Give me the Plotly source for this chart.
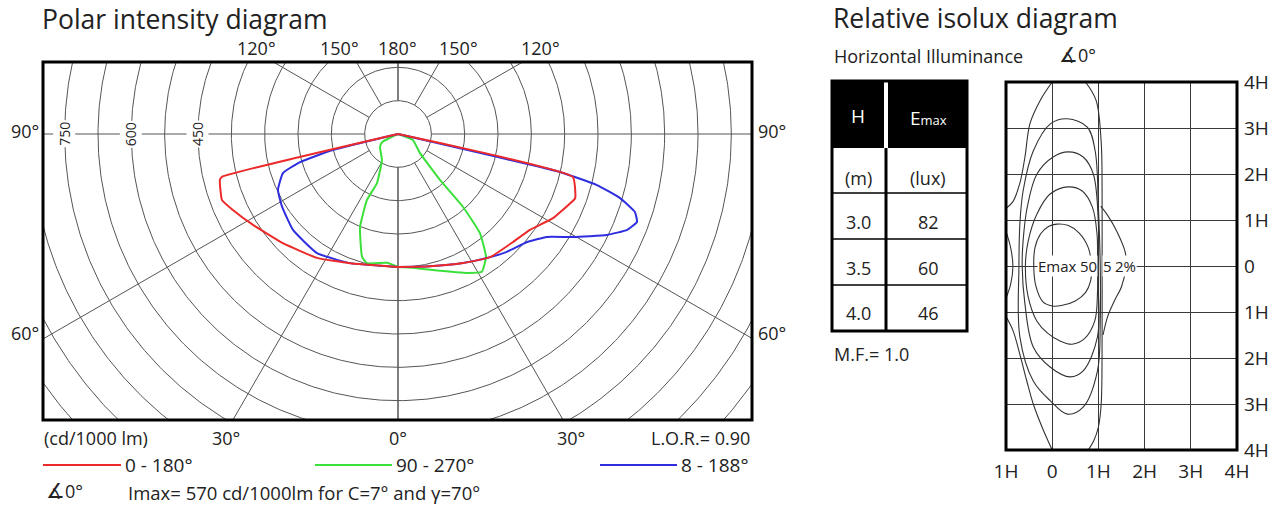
import numpy as np
import plotly.graph_objects as go

W, H = 1286, 507
FONT = "Open Sans"
OFF = 0  # body margin removed through post_script

# ---------------- Polar intensity data (gamma in deg, I in cd/1000 lm) ----------------
red_right_gamma = [0, 13.6, 26.7, 36.8, 46.8, 54.0, 61.5, 68.7, 70.1, 76.2, 77.0]
red_right_I = [299, 306, 325, 346, 355, 367, 397, 420, 424, 405, 0]
red_left_gamma = [0, 20.4, 33.2, 46.5, 57.9, 65.3, 69.4, 75.5, 76.3, 77.0]
red_left_I = [299, 310, 333, 357, 385, 409, 423, 414, 408, 0]

blue_right_gamma = [0, 13.6, 26.7, 36.8, 42.7, 50.1, 55.3, 59.5, 64.2, 67.3, 69.8, 71.8, 73.9, 75.6, 76.8, 78.0]
blue_right_I = [299, 306, 325, 346, 361, 379, 407, 457, 522, 559, 573, 561, 520, 462, 374, 0]
blue_left_gamma = [0, 20.4, 34.2, 47.6, 57.8, 65.0, 71.3, 74.0, 76.2, 78.0]
blue_left_I = [299, 310, 324, 320, 308, 298, 273, 229, 151, 0]

green_right_gamma = [0, 6.4, 14.4, 26.4, 31.3, 35.6, 39.6, 41.7, 42.4, 49.2, 68.0, 90.0]
green_right_I = [299, 303, 316, 349, 363, 340, 289, 220, 140, 65, 36, 0]
green_left_gamma = [0, 4.9, 13.5, 16.3, 22.2, 25.2, 23.2, 31.6, 54.0, 63.0, 90.0]
green_left_I = [299, 291, 299, 288, 226, 164, 120, 69, 50, 40, 0]

ring_labels = ["450", "600", "750"]
ring_label_values = [450, 600, 750]

# ---------------- Isolux data (H units) ----------------
iso_c1_x = [0.10, 0.35, 0.58, 0.78, 0.85, 0.83, 0.72, 0.50, 0.20, 0.00, -0.20, -0.35, -0.40, -0.37, -0.25, -0.08, 0.10]
iso_c1_y = [0.91, 0.88, 0.72, 0.40, 0.00, -0.33, -0.58, -0.76, -0.86, -0.87, -0.78, -0.45, 0.00, 0.41, 0.70, 0.86, 0.91]
iso_c2_x = [0.35, 0.65, 0.87, 0.97, 0.98, 0.98, 0.92, 0.70, 0.43, 0.15, -0.10, -0.33, -0.52, -0.58, -0.52, -0.33, -0.04, 0.35]
iso_c2_y = [1.72, 1.63, 1.28, 0.70, 0.00, -0.60, -1.20, -1.58, -1.70, -1.62, -1.46, -1.20, -0.67, 0.00, 0.54, 1.13, 1.57, 1.72]
iso_c3_x = [0.35, 0.67, 0.89, 1.00, 1.00, 1.00, 0.98, 0.67, 0.39, -0.04, -0.41, -0.59, -0.65, -0.63, -0.54, -0.33, 0.02, 0.35]
iso_c3_y = [2.48, 2.37, 2.00, 0.91, 0.00, -0.46, -1.54, -2.28, -2.41, -2.20, -1.76, -0.83, 0.00, 0.54, 1.28, 2.00, 2.37, 2.48]
iso_c4_x = [0.33, 0.76, 0.93, 1.00, 1.04, 1.04, 0.98, 0.67, 0.33, -0.04, -0.41, -0.70, -0.72, -0.70, -0.63, -0.41, -0.04, 0.33]
iso_c4_y = [3.20, 3.02, 2.50, 1.28, 0.00, -1.20, -2.28, -3.07, -3.22, -2.93, -2.50, -1.54, 0.00, 0.91, 1.63, 2.50, 3.09, 3.20]
iso_c5a_x = [0.0, -0.26, -0.48, -0.59, -0.70, -0.85, -1.0]
iso_c5a_y = [4.0, 3.6, 3.1, 2.37, 1.8, 1.4, 1.25]
iso_c5b_x = [-1.0, -0.85, -0.70, -0.55, -0.41, -0.20, 0.0]
iso_c5b_y = [-1.1, -1.4, -1.92, -2.5, -3.0, -3.55, -4.0]
iso_c5c_x = [0.72, 0.95, 1.06, 1.08, 1.08, 1.08, 1.06, 1.00, 0.90, 0.78]
iso_c5c_y = [4.0, 3.6, 2.7, 1.6, 0.0, -1.6, -3.0, -3.5, -3.8, -4.0]
iso_c6_x = [1.05, 1.20, 1.40, 1.58, 1.60, 1.50, 1.35, 1.20, 1.10]
iso_c6_y = [1.30, 1.10, 0.75, 0.30, 0.00, -0.45, -0.75, -1.10, -1.50]
iso_c7_x = [-1.0, -0.90, -0.85, -0.90, -1.0]
iso_c7_y = [0.75, 0.40, 0.00, -0.40, -0.70]

iso_labels = ["Emax", "50", "5", "2%"]
iso_label_x = [0.11, 0.78, 1.20, 1.59]
iso_y_ticks = ["4H", "3H", "2H", "1H", "0", "1H", "2H", "3H", "4H"]
iso_y_vals = [4, 3, 2, 1, 0, -1, -2, -3, -4]
iso_x_ticks = ["1H", "0", "1H", "2H", "3H", "4H"]
iso_x_vals = [-1, 0, 1, 2, 3, 4]

# ---------------- Table data ----------------
table_H = ["3.0", "3.5", "4.0"]
table_Emax = ["82", "60", "46"]

# ---------------- Layout geometry (pixels of the target picture) ----------------
def PX(x):
    return (x - OFF) / W

def PY(y):
    return 1 - (y - OFF) / H

CX, CY = 398, 134
SCALE = 200 / 450.0  # px per cd
BX0, BY0, BX1, BY1 = 43, 62, 752, 420
xr = [(BX0 - CX) / SCALE, (BX1 - CX) / SCALE]
yr = [(CY - BY1) / SCALE, (CY - BY0) / SCALE]

IX0, IY0, IX1, IY1 = 1006, 82, 1237, 450

fig = go.Figure()

# polar grid: circles and radial lines
th = np.linspace(0, 2 * np.pi, 721)
gx, gy = [], []
for k in range(1, 16):
    r = 75 * k
    gx += list(r * np.cos(th)) + [None]
    gy += list(r * np.sin(th)) + [None]
for a in [0, 30, 60, 90, 120, 150, 180]:
    for s in (-1, 1):
        ar = np.radians(a)
        gx += [s * 75 * np.sin(ar), s * 1500 * np.sin(ar), None]
        gy += [-75 * np.cos(ar), -1500 * np.cos(ar), None]
fig.add_trace(go.Scatter(x=gx, y=gy, mode="lines", line=dict(color="#555555", width=1),
                         hoverinfo="skip", showlegend=False, xaxis="x", yaxis="y"))


def polar_xy(gl, il, gr, ir):
    xs, ys = [], []
    for g, i in zip(gl[::-1], il[::-1]):
        xs.append(-i * np.sin(np.radians(g)))
        ys.append(-i * np.cos(np.radians(g)))
    for g, i in zip(gr, ir):
        xs.append(i * np.sin(np.radians(g)))
        ys.append(-i * np.cos(np.radians(g)))
    xs.append(xs[0]); ys.append(ys[0])
    return xs, ys


for gl, il, gr, ir, col in [
    (green_left_gamma, green_left_I, green_right_gamma, green_right_I, "#3be03b"),
    (blue_left_gamma, blue_left_I, blue_right_gamma, blue_right_I, "#2e2ee0"),
    (red_left_gamma, red_left_I, red_right_gamma, red_right_I, "#ec2a2a"),
]:
    xs, ys = polar_xy(gl, il, gr, ir)
    fig.add_trace(go.Scatter(x=xs, y=ys, mode="lines", line=dict(color=col, width=2, shape="spline", smoothing=0.4),
                             hoverinfo="skip", showlegend=False, xaxis="x", yaxis="y"))

# isolux contours
for cx_, cy_ in [(iso_c1_x, iso_c1_y), (iso_c2_x, iso_c2_y), (iso_c3_x, iso_c3_y), (iso_c4_x, iso_c4_y),
                 (iso_c5a_x, iso_c5a_y), (iso_c5b_x, iso_c5b_y), (iso_c5c_x, iso_c5c_y),
                 (iso_c6_x, iso_c6_y), (iso_c7_x, iso_c7_y)]:
    fig.add_trace(go.Scatter(x=cx_, y=cy_, mode="lines", line=dict(color="#333", width=1.1, shape="spline", smoothing=1.0),
                             hoverinfo="skip", showlegend=False, xaxis="x2", yaxis="y2"))

shapes = []
annotations = []

def ann(text, x, y, size=15, xanchor="center", yanchor="middle", color="#222", **kw):
    annotations.append(dict(text=text, x=PX(x), y=PY(y), xref="paper", yref="paper", showarrow=False,
                            xanchor=xanchor, yanchor=yanchor, borderpad=0,
                            font=dict(family=FONT, size=size, color=color), **kw))

ANG = "<span style='font-size:21px'>∡</span>0°"

# polar frame
shapes.append(dict(type="rect", xref="x domain", yref="y domain", x0=0, x1=1, y0=0, y1=1,
                   line=dict(color="black", width=3)))
# ring labels on the 90 deg line
for t, v in zip(ring_labels, ring_label_values):
    annotations.append(dict(text=t, x=-v, y=0, xref="x", yref="y", showarrow=False, textangle=-90,
                            bgcolor="white", borderpad=1, font=dict(family=FONT, size=14, color="#222")))

# titles and labels (polar)
ann("Polar intensity diagram", 41, 19, size=26.5, xanchor="left")
for t, x in [("120°", 256), ("150°", 340), ("180°", 397), ("150°", 458), ("120°", 540)]:
    ann(t, x, 48, size=18)
ann("90°", 25, 131, size=18)
ann("90°", 772, 131, size=18)
ann("60°", 25, 333, size=18)
ann("60°", 772, 333, size=18)
ann("(cd/1000 lm)", 43, 438, size=18, xanchor="left")
ann("30°", 226, 438, size=18)
ann("0°", 398, 438, size=18)
ann("30°", 571, 438, size=18)
ann("L.O.R.= 0.90", 751, 438, size=18, xanchor="right")

for (x0, x1, col, txt) in [(43, 121, "#ec2a2a", "0 - 180°"), (315, 392, "#3be03b", "90 - 270°"),
                           (600, 677, "#2e2ee0", "8 - 188°")]:
    shapes.append(dict(type="line", xref="paper", yref="paper", x0=PX(x0), x1=PX(x1), y0=PY(465), y1=PY(465),
                       line=dict(color=col, width=2)))
    ann(txt, x1 + 3, 465, size=19, xanchor="left")
ann(ANG, 45, 490, size=18, xanchor="left")
ann("Imax= 570 cd/1000lm for C=7° and γ=70°", 127, 492, size=18.5, xanchor="left")

# right side titles
ann("Relative isolux diagram", 832, 18, size=26.5, xanchor="left")
ann("Horizontal Illuminance", 833, 56, size=18, xanchor="left")
ann(ANG, 1058, 54, size=18, xanchor="left")
ann("M.F.= 1.0", 833, 354, size=18, xanchor="left")

# table
TX0, TX1, TXM = 832, 967, 886
TY0, TYH, TY1 = 81, 148, 331
row_lines = [193, 239, 285]
shapes.append(dict(type="rect", xref="paper", yref="paper", x0=PX(TX0), x1=PX(TX1), y0=PY(TYH), y1=PY(TY0),
                   fillcolor="black", line=dict(width=0)))
shapes.append(dict(type="line", xref="paper", yref="paper", x0=PX(TXM), x1=PX(TXM), y0=PY(TY0), y1=PY(TYH),
                   line=dict(color="white", width=4)))
shapes.append(dict(type="line", xref="paper", yref="paper", x0=PX(TXM), x1=PX(TXM), y0=PY(TYH), y1=PY(TY1),
                   line=dict(color="black", width=3)))
for ry in row_lines:
    shapes.append(dict(type="line", xref="paper", yref="paper", x0=PX(TX0), x1=PX(TX1), y0=PY(ry), y1=PY(ry),
                       line=dict(color="black", width=1.5)))
shapes.append(dict(type="rect", xref="paper", yref="paper", x0=PX(TX0), x1=PX(TX1), y0=PY(TY1), y1=PY(TY0),
                   line=dict(color="black", width=3)))
ann("H", 858, 116, size=19, color="white")
ann("E<span style='font-size:13px'>max</span>", 928, 118, size=19, color="white")
ann("(m)", 858, 178, size=18)
ann("(lux)", 928, 178, size=18)
row_centers = [222, 268, 313]
for h_, e_, yc in zip(table_H, table_Emax, row_centers):
    ann(h_, 858, yc, size=18)
    ann(e_, 928, yc, size=18)

# isolux frame and labels
shapes.append(dict(type="rect", xref="x2 domain", yref="y2 domain", x0=0, x1=1, y0=0, y1=1,
                   line=dict(color="black", width=3)))
# white band that interrupts the 0 grid line behind the level labels
shapes.append(dict(type="rect", xref="x2", yref="y2", x0=-0.25, x1=1.82, y0=-0.14, y1=0.14,
                   fillcolor="white", line=dict(width=0), layer="between"))
for t, xv in zip(iso_labels, iso_label_x):
    annotations.append(dict(text=t, x=xv, y=0, xref="x2", yref="y2", showarrow=False, bgcolor="white",
                            borderpad=0, font=dict(family=FONT, size=15, color="#222")))

fig.update_layout(
    template="none",
    width=W, height=H, margin=dict(l=0, r=0, t=0, b=0, pad=0, autoexpand=False),
    paper_bgcolor="white", plot_bgcolor="white",
    showlegend=False,
    xaxis=dict(domain=[PX(BX0), PX(BX1)], range=xr, showgrid=False, zeroline=False, showticklabels=False,
               showline=False, ticks="", automargin=False, fixedrange=True),
    yaxis=dict(domain=[PY(BY1), PY(BY0)], range=yr, showgrid=False, zeroline=False, showticklabels=False,
               showline=False, ticks="", automargin=False, fixedrange=True),
    xaxis2=dict(domain=[PX(IX0), PX(IX1)], range=[-1, 4], anchor="y2", showgrid=True, gridcolor="#3a3a3a",
                gridwidth=1, zeroline=False, tickvals=iso_x_vals, ticktext=iso_x_ticks, ticks="",
                ticklabelstandoff=8, showline=False, automargin=False,
                tickfont=dict(family=FONT, size=19, color="#222"), fixedrange=True),
    yaxis2=dict(domain=[PY(IY1), PY(IY0)], range=[-4, 4], anchor="x2", side="right", showgrid=True,
                gridcolor="#3a3a3a", gridwidth=1, zeroline=False, tickvals=iso_y_vals, ticktext=iso_y_ticks,
                ticks="", ticklabelstandoff=6, showline=False, automargin=False,
                tickfont=dict(family=FONT, size=19, color="#222"), fixedrange=True),
    shapes=shapes, annotations=annotations,
)

fig.write_html("out.html", config={"displayModeBar": False, "staticPlot": True},
               post_script="document.body.style.margin='0px';")
